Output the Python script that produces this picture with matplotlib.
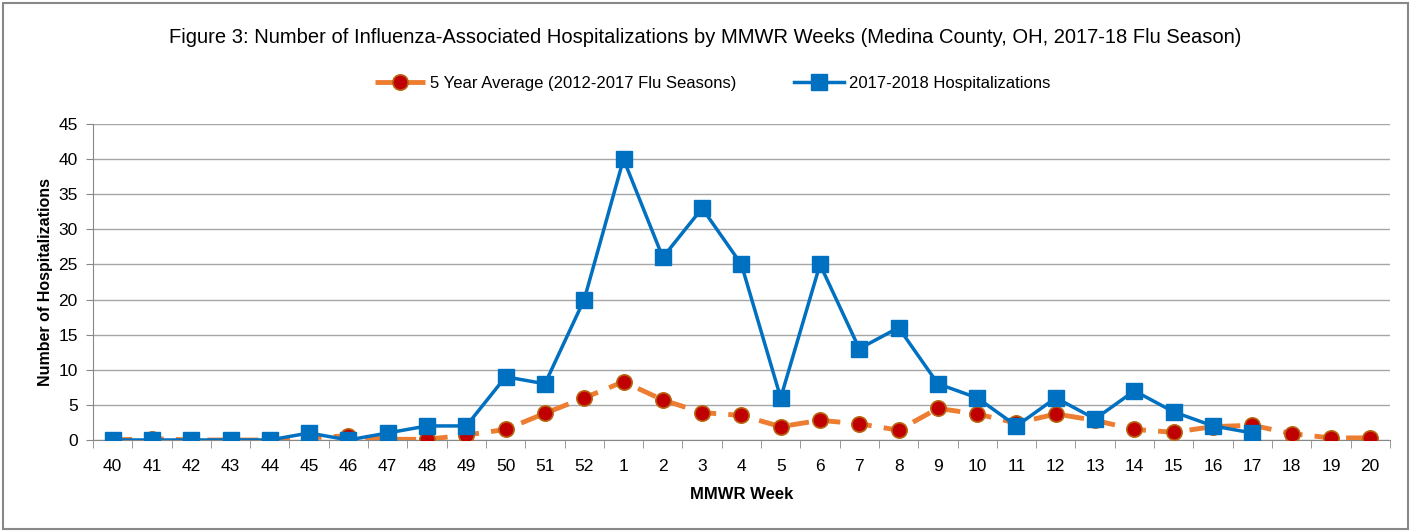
import numpy as np
import matplotlib.pyplot as plt
from matplotlib.patches import Rectangle

weeks = ["40", "41", "42", "43", "44", "45", "46", "47", "48", "49", "50", "51", "52",
         "1", "2", "3", "4", "5", "6", "7", "8", "9", "10", "11", "12", "13", "14",
         "15", "16", "17", "18", "19", "20"]
avg_5yr = [0, 0.2, 0, 0, 0, 0.3, 0.6, 0.1, 0.1, 0.7, 1.5, 3.8, 6.0,
           8.3, 5.7, 3.9, 3.5, 1.9, 2.8, 2.3, 1.4, 4.5, 3.7, 2.4, 3.7, 2.8, 1.5,
           1.1, 1.9, 2.1, 0.9, 0.3, 0.3]
hosp_1718 = [0, 0, 0, 0, 0, 1, 0, 1, 2, 2, 9, 8, 20,
             40, 26, 33, 25, 6, 25, 13, 16, 8, 6, 2, 6, 3, 7,
             4, 2, 1]

plt.rcParams["font.family"] = ["Liberation Sans", "DejaVu Sans"]

fig = plt.figure(figsize=(14.11, 5.31), dpi=100)
ax = fig.add_axes([0.0659, 0.1714, 0.9191, 0.5951])

x = np.arange(len(weeks))
ax.plot(x, avg_5yr, color="#ED7D31", lw=3.5, ls=(0, (4, 2.5)), marker="o", ms=11,
        mfc="#C00000", mec="#B8650E", mew=1.2, label="5 Year Average (2012-2017 Flu Seasons)", zorder=3)
ax.plot(x[:len(hosp_1718)], hosp_1718, color="#0070C0", lw=2.5, marker="s", ms=11,
        mfc="#0070C0", mec="#0070C0", label="2017-2018 Hospitalizations", zorder=4)

ax.set_xlim(-0.5, len(weeks) - 0.5)
ax.set_ylim(0, 45)
ax.set_yticks(np.arange(0, 46, 5))
ax.set_xticks(x)
ax.set_xticklabels(weeks)
ax.set_xticks(np.arange(-0.5, len(weeks), 1), minor=True)
ax.tick_params(axis="x", which="major", length=0, labelsize=12.5, pad=14)
ax.tick_params(axis="x", which="minor", length=6, color="#888888")
ax.tick_params(axis="y", length=5, color="#888888", labelsize=12.5, pad=6)
ax.grid(axis="y", color="#A6A6A6", lw=1)
ax.set_axisbelow(True)
for s in ["top", "right"]:
    ax.spines[s].set_visible(False)
for s in ["left", "bottom"]:
    ax.spines[s].set_color("#888888")

ax.set_xlabel("MMWR Week", fontsize=12, fontweight="bold", labelpad=9)
ax.set_ylabel("Number of Hospitalizations", fontsize=11.5, fontweight="bold", labelpad=4)

fig.text(0.5, 0.93, "Figure 3: Number of Influenza-Associated Hospitalizations by MMWR Weeks (Medina County, OH, 2017-18 Flu Season)",
         ha="center", va="center", fontsize=14.5)
fig.legend(loc="center", bbox_to_anchor=(0.505, 0.843), ncol=2, frameon=False, fontsize=12,
           handlelength=3, handletextpad=0.3, columnspacing=3.5)

fig.add_artist(Rectangle((0.002, 0.004), 0.996, 0.99, transform=fig.transFigure,
                         fill=False, ec="#888888", lw=1.5))

fig.savefig("out.png", dpi=100)
